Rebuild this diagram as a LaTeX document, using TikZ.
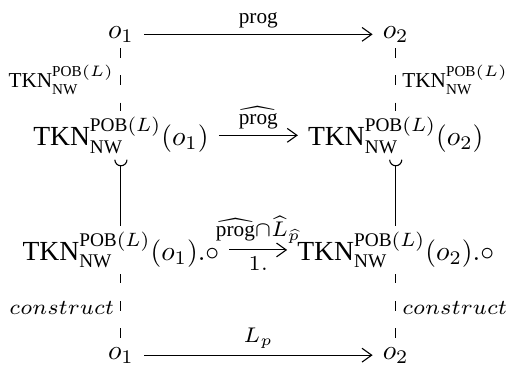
\documentclass[tikz,border=0pt]{standalone}
\usepackage{amsmath}
\usepackage{amssymb}
\usepackage{fontspec}
\setmainfont{Liberation Serif}
\usepackage{tikz}
\usetikzlibrary{arrows.meta, positioning}
\tikzset{
  obj/.style={anchor=base, inner xsep=3.5pt, inner ysep=2pt},
  lbl/.style={inner sep=2pt, scale=1.1},
  dashline/.style={dash pattern=on 3.3pt off 6.5pt},
  arr/.style={-{Straight Barb[length=3.5pt,width=5pt]}},
  hookline/.style={{Arc Barb[reversed,length=2.4pt,width=4.8pt]}-}
}
\newcommand{\tkn}{\mathrm{TKN}^{\mathrm{POB}(L)}_{\mathrm{NW}}}
\newcommand{\lb}[1]{$\scriptstyle #1$}

\begin{document}
\begin{tikzpicture}
      \useasboundingbox (0,0) rectangle (6.47,4.637);
      % top row
      \node[obj] (top1) at (1.54,4.15) {$o_1$};
      \node[obj] (top2) at (5.04,4.15) {$o_2$};
      % TKN row
      \node[obj] (tkn1) at (1.54,2.78) {$\tkn(o_1)$};
      \node[obj] (tkn2) at (5.04,2.78) {$\tkn(o_2)$};
      % circ row
      \node[obj] (dot1) at (1.54,1.32) {$\tkn(o_1).\circ$};
      \node[obj] (dot2) at (5.04,1.32) {$\tkn(o_2).\circ$};
      % bottom row
      \node[obj] (bot1) at (1.54,0.064) {$o_1$};
      \node[obj] (bot2) at (5.04,0.064) {$o_2$};
      % horizontal arrows
      \draw[arr] (top1) -- node[lbl, above] {\lb{\mathrm{prog}}} (top2);
      \draw[arr] (tkn1) -- node[lbl, above] {\lb{\widehat{\mathrm{prog}}}} (tkn2);
      \draw[arr] (dot1) -- node[lbl, above] {\lb{\widehat{\mathrm{prog}}\cap\widehat{L}_{\widehat{p}}}}
        node[lbl, below] {\lb{1.}} (dot2);
      \draw[arr] (bot1) -- node[lbl, above] {\lb{L_p}} (bot2);
      % left column
      \draw[dashline] (top1) -- node[lbl, left] {\lb{\tkn}} (tkn1);
      \draw[hookline] (tkn1) -- (dot1);
      \draw[dashline] (dot1) -- node[lbl, left] {\lb{construct}} (bot1);
      % right column
      \draw[dashline] (top2) -- node[lbl, right] {\lb{\tkn}} (tkn2);
      \draw[hookline] (tkn2) -- (dot2);
      \draw[dashline] (dot2) -- node[lbl, right] {\lb{construct}} (bot2);
    \end{tikzpicture}
\end{document}
